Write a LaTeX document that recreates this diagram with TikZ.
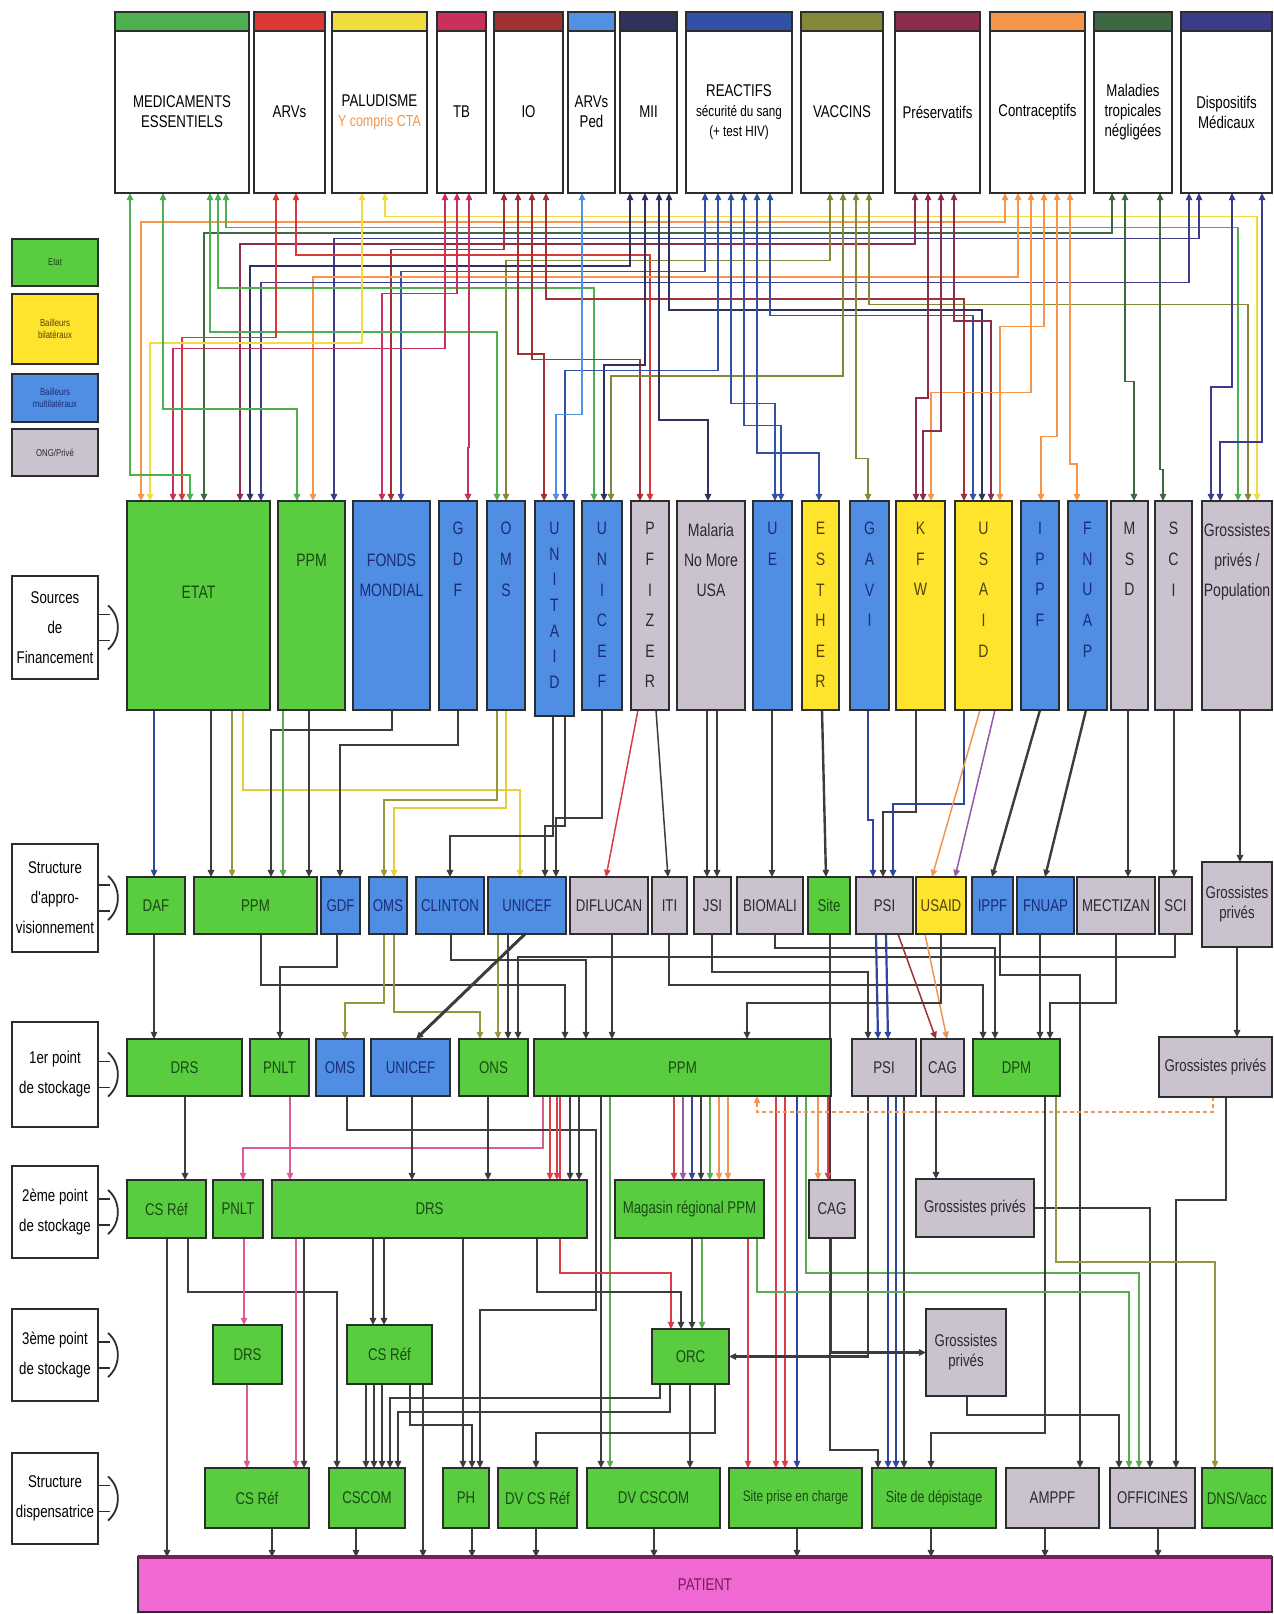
\documentclass[tikz,border=0pt]{standalone}
\usepackage{fontspec}
\newfontfamily\nar{Liberation Sans}[FakeStretch=0.78]
\usetikzlibrary{arrows.meta}
\definecolor{bd}{RGB}{45,45,45}
\definecolor{gr}{RGB}{90,204,64}
\definecolor{grT}{RGB}{25,75,20}
\definecolor{bl}{RGB}{80,142,228}
\definecolor{blT}{RGB}{25,45,120}
\definecolor{ye}{RGB}{255,228,45}
\definecolor{yeT}{RGB}{80,65,15}
\definecolor{gy}{RGB}{202,194,206}
\definecolor{gyT}{RGB}{45,40,50}
\definecolor{pk}{RGB}{240,105,210}
\definecolor{pkB}{RGB}{120,30,90}
\definecolor{lk}{RGB}{60,60,62}
\definecolor{kME}{RGB}{76,175,80}
\definecolor{kARV}{RGB}{220,55,55}
\definecolor{kPAL}{RGB}{240,220,60}
\definecolor{kTB}{RGB}{200,50,90}
\definecolor{kIO}{RGB}{160,50,50}
\definecolor{kARVP}{RGB}{80,145,225}
\definecolor{kMII}{RGB}{45,50,95}
\definecolor{kREA}{RGB}{50,80,165}
\definecolor{kVAC}{RGB}{135,135,60}
\definecolor{kPRE}{RGB}{140,45,80}
\definecolor{kCON}{RGB}{245,150,75}
\definecolor{kMAL}{RGB}{60,105,65}
\definecolor{kDIS}{RGB}{60,60,140}
\definecolor{cOl}{RGB}{150,150,60}
\definecolor{cYe}{RGB}{230,205,60}
\definecolor{cGr}{RGB}{90,170,80}
\definecolor{cRd}{RGB}{220,60,70}
\definecolor{cPk}{RGB}{220,90,150}
\definecolor{cOr}{RGB}{240,150,80}
\definecolor{cBl}{RGB}{45,70,160}
\definecolor{cPu}{RGB}{150,90,170}
\pgfdeclarelayer{back}
\pgfdeclarelayer{bg}
\pgfsetlayers{back,bg,main}
\newcommand\mkbox[7]{%
  \pgfmathsetmacro\mbw{(#4-#2)*0.5}%
  \pgfmathsetmacro\mbh{(#5-#3)*0.5}%
  \pgfmathsetmacro\mbx{(#2+#4)/2}%
  \pgfmathsetmacro\mby{(#3+#5)/2}%
  \node[#6,minimum width=\mbw pt,minimum height=\mbh pt] (#1) at (\mbx,\mby) {#7};}
\newcommand\cvv[5]{\draw[#1] (#3,0|-#2.south) -- (#5,0|-#4.north);}
\newcommand\cvhv[6]{\draw[#1] (#3,0|-#2.south) -- (#3,#4) -- (#6,#4) -- (#6,0|-#5.north);}
\newcommand\rowarr[1]{%
  \draw[line width=0.9pt,draw=bd] ([yshift=6.5pt]#1.east) -- ++(12,0) ([yshift=-6.5pt]#1.east) -- ++(12,0);
  \draw[line width=0.9pt,draw=bd] ([xshift=5pt,yshift=11pt]#1.east) to[bend left=50] ([xshift=5pt,yshift=-11pt]#1.east);}
\tikzset{
  tri/.tip={Triangle[length=3.6pt,width=3.2pt]},
  bx/.style={draw=bd,line width=0.8pt,inner sep=0pt,outer sep=0pt,align=center,font=\nar\fontsize{8.5}{10}\selectfont},
  grn/.style={bx,fill=gr,text=grT},
  blu/.style={bx,fill=bl,text=blT},
  yel/.style={bx,fill=ye,text=yeT},
  gry/.style={bx,fill=gy,text=gyT},
  wht/.style={bx,fill=white,text=black},
  rowlab/.style={bx,fill=white,text=black,line width=1pt,font=\nar\fontsize{8.5}{15}\selectfont},
  leg/.style={bx,line width=1.1pt,font=\nar\fontsize{5}{6}\selectfont},
  lab/.style={inner sep=0pt,align=center,font=\nar\fontsize{9}{15}\selectfont},
  vlab/.style={lab,anchor=north,font=\nar\fontsize{9}{15.3}\selectfont},
  toplink/.style={line width=0.85pt,tri-tri},
  dk/.style={draw=lk,line width=1.2pt,-tri},
  dkB/.style={draw=cBl,line width=1.1pt,-tri},
  th/.style={line width=0.75pt,-tri},
}
\begin{document}
\begin{tikzpicture}[x=0.5pt,y=-0.5pt]
\begin{pgfonlayer}{back}
\fill[white] (0,0) rectangle (1274,1614);
\end{pgfonlayer}
\useasboundingbox (0,0) rectangle (1274,1614);

% ---------- products ----------
\foreach \nm/\xa/\xb/\bc/\tx in {
  pME/115/249/kME/{MEDICAMENTS\\ESSENTIELS},
  pARV/254/325/kARV/{ARVs},
  pPAL/332/427/kPAL/{PALUDISME\\{\fontsize{8}{10}\selectfont\color{kCON}Y compris CTA}},
  pTB/437/486/kTB/{TB},
  pIO/494/563/kIO/{IO},
  pARVP/568/615/kARVP/{ARVs\\Ped},
  pMII/620/677/kMII/{MII},
  pREA/686/792/kREA/{REACTIFS\\{\fontsize{7.5}{10}\selectfont s\'ecurit\'e du sang}\\{\fontsize{7.5}{10}\selectfont (+ test HIV)}},
  pVAC/801/883/kVAC/{VACCINS},
  pPRE/895/980/kPRE/{Pr\'eservatifs},
  pCON/990/1085/kCON/{Contraceptifs},
  pMAL/1094/1172/kMAL/{Maladies\\tropicales\\n\'eglig\'ees},
  pDIS/1181/1272/kDIS/{Dispositifs\\M\'edicaux}} {
  \mkbox{\nm}{\xa}{31}{\xb}{193}{wht}{\tx}
  \filldraw[fill=\bc,draw=bd,line width=0.8pt] (\xa,12) rectangle (\xb,31);
}

% ---------- legend ----------
\mkbox{lEtat}{12}{239}{98}{286}{leg,fill=gr,text=grT}{Etat}
\mkbox{lBil}{12}{294}{98}{364}{leg,fill=ye,text=yeT}{Bailleurs\\bilat\'eraux}
\mkbox{lMul}{12}{374}{98}{422}{leg,fill=bl,text=blT}{Bailleurs\\multilat\'eraux}
\mkbox{lONG}{12}{429}{98}{476}{leg,fill=gy,text=gyT}{ONG/Priv\'e}

% ---------- row labels ----------
\mkbox{rSrc}{12}{576}{98}{679}{rowlab}{Sources\\de\\Financement}
\mkbox{rApp}{12}{844}{98}{952}{rowlab}{Structure\\d'appro-\\visionnement}
\mkbox{rOne}{12}{1022}{98}{1127}{rowlab}{1er point\\de stockage}
\mkbox{rTwo}{12}{1166}{98}{1258}{rowlab}{2\`eme point\\de stockage}
\mkbox{rThr}{12}{1309}{98}{1401}{rowlab}{3\`eme point\\de stockage}
\mkbox{rDis}{12}{1453}{98}{1544}{rowlab}{Structure\\dispensatrice}
\rowarr{rSrc}\rowarr{rApp}\rowarr{rOne}\rowarr{rTwo}\rowarr{rThr}\rowarr{rDis}

% ---------- sources ----------
\mkbox{sETAT}{127}{501}{270}{710}{grn}{}
\mkbox{sPPM}{278}{501}{345}{710}{grn}{}
\mkbox{sFM}{353}{501}{430}{710}{blu}{}
\mkbox{sGDF}{439}{501}{477}{710}{blu}{}
\mkbox{sOMS}{487}{501}{525}{710}{blu}{}
\mkbox{sUNITAID}{535}{501}{574}{716}{blu}{}
\mkbox{sUNICEF}{582}{501}{622}{710}{blu}{}
\mkbox{sPFIZER}{631}{501}{669}{710}{gry}{}
\mkbox{sMAL}{677}{501}{745}{710}{gry}{}
\mkbox{sUE}{753}{501}{792}{710}{blu}{}
\mkbox{sESTHER}{802}{501}{839}{710}{yel}{}
\mkbox{sGAVI}{850}{501}{889}{710}{blu}{}
\mkbox{sKFW}{896}{501}{945}{710}{yel}{}
\mkbox{sUSAID}{955}{501}{1012}{710}{yel}{}
\mkbox{sIPPF}{1021}{501}{1059}{710}{blu}{}
\mkbox{sFNUAP}{1068}{501}{1107}{710}{blu}{}
\mkbox{sMSD}{1111}{501}{1148}{710}{gry}{}
\mkbox{sSCI}{1155}{501}{1192}{710}{gry}{}
\mkbox{sGROS}{1202}{501}{1272}{710}{gry}{}
\node[lab,text=grT] (tETAT) at (198.5,592) {ETAT};
\node[lab,text=grT] (tPPM) at (311.5,560) {PPM};
\node[lab,text=blT] (tFM) at (391.5,575) {FONDS\\MONDIAL};
\node[lab,text=gyT] (tMAL) at (711,560) {Malaria\\No More\\USA};
\node[lab,text=gyT] (tGROS) at (1237,562) {Grossistes\\priv\'es /\\Population};
\node[vlab,text=blT] (tGDF) at (458,522) {G\\D\\F};
\node[vlab,text=blT] (tOMS) at (506,522) {O\\M\\S};
\node[vlab,text=blT,font=\nar\fontsize{9}{12.8}\selectfont] (tUNITAID) at (554.5,522) {U\\N\\I\\T\\A\\I\\D};
\node[vlab,text=blT] (tUNICEF) at (602,522) {U\\N\\I\\C\\E\\F};
\node[vlab,text=gyT] (tPFIZER) at (650,522) {P\\F\\I\\Z\\E\\R};
\node[vlab,text=blT] (tUE) at (772.5,522) {U\\E};
\node[vlab,text=yeT] (tESTHER) at (820.5,522) {E\\S\\T\\H\\E\\R};
\node[vlab,text=blT] (tGAVI) at (869.5,522) {G\\A\\V\\I};
\node[vlab,text=yeT] (tKFW) at (920.5,522) {K\\F\\W};
\node[vlab,text=yeT] (tUSAID) at (983.5,522) {U\\S\\A\\I\\D};
\node[vlab,text=blT] (tIPPF) at (1040,522) {I\\P\\P\\F};
\node[vlab,text=blT] (tFNUAP) at (1087.5,522) {F\\N\\U\\A\\P};
\node[vlab,text=gyT] (tMSD) at (1129.5,522) {M\\S\\D};
\node[vlab,text=gyT] (tSCI) at (1173.5,522) {S\\C\\I};

% ---------- approvisionnement ----------
\mkbox{aDAF}{127}{877}{185}{934}{grn}{DAF}
\mkbox{aPPM}{194}{877}{317}{934}{grn}{PPM}
\mkbox{aGDF}{321}{877}{360}{934}{blu}{GDF}
\mkbox{aOMS}{369}{877}{407}{934}{blu}{OMS}
\mkbox{aCLI}{416}{877}{484}{934}{blu}{CLINTON}
\mkbox{aUNICEF}{488}{877}{566}{934}{blu}{UNICEF}
\mkbox{aDIF}{570}{877}{648}{934}{gry}{DIFLUCAN}
\mkbox{aITI}{652}{877}{687}{934}{gry}{ITI}
\mkbox{aJSI}{694}{877}{731}{934}{gry}{JSI}
\mkbox{aBIO}{737}{877}{803}{934}{gry}{BIOMALI}
\mkbox{aSITE}{808}{877}{850}{934}{grn}{Site}
\mkbox{aPSI}{856}{877}{913}{934}{gry}{PSI}
\mkbox{aUSAID}{916}{877}{966}{934}{yel}{USAID}
\mkbox{aIPPF}{972}{877}{1013}{934}{blu}{IPPF}
\mkbox{aFNUAP}{1017}{877}{1074}{934}{blu}{FNUAP}
\mkbox{aMEC}{1077}{877}{1155}{934}{gry}{MECTIZAN}
\mkbox{aSCI}{1159}{877}{1192}{934}{gry}{SCI}
\mkbox{aGROS}{1202}{862}{1272}{947}{gry}{Grossistes\\priv\'es}

% ---------- 1er point ----------
\mkbox{bDRS}{127}{1039}{242}{1096}{grn}{DRS}
\mkbox{bPNLT}{250}{1039}{309}{1096}{grn}{PNLT}
\mkbox{bOMS}{316}{1039}{364}{1096}{blu}{OMS}
\mkbox{bUNICEF}{371}{1039}{450}{1096}{blu}{UNICEF}
\mkbox{bONS}{459}{1039}{528}{1096}{grn}{ONS}
\mkbox{bPPM}{534}{1039}{831}{1096}{grn}{PPM}
\mkbox{bPSI}{852}{1039}{916}{1096}{gry}{PSI}
\mkbox{bCAG}{921}{1039}{964}{1096}{gry}{CAG}
\mkbox{bDPM}{973}{1039}{1060}{1096}{grn}{DPM}
\mkbox{bGROS}{1159}{1037}{1272}{1097}{gry}{Grossistes priv\'es}

% ---------- 2eme point ----------
\mkbox{cCSREF}{127}{1180}{206}{1238}{grn}{CS R\'ef}
\mkbox{cPNLT}{213}{1180}{263}{1238}{grn}{PNLT}
\mkbox{cDRS}{272}{1180}{587}{1238}{grn}{DRS}
\mkbox{cMAG}{615}{1180}{764}{1238}{grn}{Magasin r\'egional PPM}
\mkbox{cCAG}{809}{1180}{855}{1238}{gry}{CAG}
\mkbox{cGROS}{916}{1179}{1034}{1237}{gry}{Grossistes priv\'es}

% ---------- 3eme point ----------
\mkbox{dDRS}{213}{1325}{282}{1384}{grn}{DRS}
\mkbox{dCSREF}{347}{1325}{432}{1384}{grn}{CS R\'ef}
\mkbox{dORC}{652}{1329}{729}{1384}{grn}{ORC}
\mkbox{dGROS}{926}{1309}{1006}{1396}{gry}{Grossistes\\priv\'es}

% ---------- dispensatrice ----------
\mkbox{eCSREF}{205}{1468}{309}{1528}{grn}{CS R\'ef}
\mkbox{eCSCOM}{329}{1468}{405}{1528}{grn}{CSCOM}
\mkbox{ePH}{443}{1468}{489}{1528}{grn}{PH}
\mkbox{eDVCS}{498}{1468}{577}{1528}{grn}{DV CS R\'ef}
\mkbox{eDVCSCOM}{587}{1468}{720}{1528}{grn}{DV CSCOM}
\mkbox{eSITEP}{729}{1468}{862}{1528}{grn,font=\nar\fontsize{7.6}{9}\selectfont}{Site prise en charge}
\mkbox{eSITED}{872}{1468}{996}{1528}{grn,font=\nar\fontsize{8}{9}\selectfont}{Site de d\'epistage}
\mkbox{eAMPPF}{1006}{1468}{1099}{1528}{gry}{AMPPF}
\mkbox{eOFF}{1110}{1468}{1195}{1528}{gry}{OFFICINES}
\mkbox{eDNS}{1202}{1468}{1272}{1528}{grn}{DNS/Vacc}

% ---------- patient ----------
\mkbox{pat}{138}{1557}{1272}{1612}{bx,fill=pk,text=pkB}{PATIENT}
\draw[pkB,line width=1.6pt] (pat.north west) -- (pat.north east);

% ================= connectors =================
\begin{pgfonlayer}{bg}
% products <-> sources
\foreach \lc/\lp/\lx/\ls/\lsx [count=\i] in {
  kPAL/pPAL/385/sGROS/1257, kCON/pCON/1005/sETAT/141, kME/pME/226/sGROS/1238,
  kMAL/pMAL/1112/sETAT/204, kDIS/pDIS/1199/sPPM/334, kPRE/pPRE/915/sETAT/240,
  kIO/pIO/504/sFM/391, kARV/pARV/296/sPFIZER/650, kVAC/pVAC/830/sOMS/506,
  kMII/pMII/630/sETAT/250, kREA/pREA/705/sFM/401, kCON/pCON/1018/sPPM/313,
  kDIS/pDIS/1189/sETAT/261, kME/pME/218/sUNICEF/594, kTB/pTB/457/sFM/382,
  kIO/pIO/546/sUSAID/964, kVAC/pVAC/869/sGROS/1248, kMII/pMII/669/sUSAID/982,
  kREA/pREA/770/sUSAID/973, kPRE/pPRE/954/sUSAID/991, kCON/pCON/1044/sUSAID/1000,
  kME/pME/210/sOMS/497, kARV/pARV/276/sETAT/182, kPAL/pPAL/362/sETAT/150,
  kTB/pTB/445/sETAT/173, kIO/pIO/518/sUNITAID/544, kIO/pIO/532/sPFIZER/640,
  kMII/pMII/645/sUNICEF/604, kREA/pREA/718/sUNITAID/565, kVAC/pVAC/843/sUNICEF/611,
  kMAL/pMAL/1125/sMSD/1134, kDIS/pDIS/1232/sGROS/1211, kCON/pCON/1031/sKFW/931,
  kPRE/pPRE/928/sKFW/916, kREA/pREA/731/sUE/775, kME/pME/163/sPPM/297,
  kARVP/pARVP/582/sUNITAID/556, kMII/pMII/659/sMAL/708, kREA/pREA/744/sUE/781,
  kPRE/pPRE/941/sKFW/923, kCON/pCON/1057/sIPPF/1041, kDIS/pDIS/1262/sGROS/1220,
  kTB/pTB/469/sGDF/468, kREA/pREA/757/sESTHER/819, kVAC/pVAC/856/sGAVI/868,
  kCON/pCON/1070/sFNUAP/1077, kMAL/pMAL/1160/sSCI/1163, kME/pME/130/sETAT/190} {
  \pgfmathsetmacro\lv{211+\i*5.5}
  \draw[toplink,draw=\lc] (\lx,0|-\lp.south) -- (\lx,\lv) -| (\lsx,0|-\ls.north);
}

% sources -> approvisionnement
\cvv{th,draw=cBl}{sETAT}{154}{aDAF}{154}
\cvv{dk}{sETAT}{211}{aPPM}{211}
\cvv{th,draw=cOl}{sETAT}{232}{aPPM}{232}
\cvhv{th,draw=cYe}{sETAT}{243}{790}{aUNICEF}{520}
\cvhv{dk}{sFM}{392}{730}{aPPM}{271}
\cvv{th,draw=cGr}{sPPM}{283}{aPPM}{283}
\cvv{dk}{sPPM}{309}{aPPM}{309}
\cvhv{dk}{sGDF}{458}{745}{aGDF}{340}
\cvhv{th,draw=cOl}{sOMS}{497}{800}{aOMS}{384}
\cvhv{th,draw=cYe}{sOMS}{506}{808}{aOMS}{394}
\cvhv{dk}{sUNITAID}{553}{836}{aCLI}{450}
\cvhv{dk}{sUNITAID}{565}{826}{aUNICEF}{545}
\cvhv{dk}{sUNICEF}{602}{818}{aUNICEF}{556}
\draw[th,draw=cRd] (638,0|-sPFIZER.south) -- (606,0|-aDIF.north);
\cvv{th,draw=lk}{sPFIZER}{656}{aITI}{668}
\cvv{dk}{sMAL}{707}{aJSI}{707}
\cvv{dk}{sMAL}{717}{aJSI}{717}
\cvv{dk}{sUE}{772}{aBIO}{772}
\cvv{dk}{sESTHER}{822}{aSITE}{826}
\cvhv{dkB}{sGAVI}{868}{820}{aPSI}{873}
\cvhv{dk}{sKFW}{916}{812}{aPSI}{883}
\cvhv{dkB}{sUSAID}{964}{804}{aPSI}{893}
\draw[th,draw=cOr] (980,0|-sUSAID.south) -- (932,0|-aUSAID.north);
\draw[th,draw=cPu] (995,0|-sUSAID.south) -- (955,0|-aUSAID.north);
\draw[dk] (1040,0|-sIPPF.south) -- (992,0|-aIPPF.north);
\draw[dk] (1086,0|-sFNUAP.south) -- (1045,0|-aFNUAP.north);
\cvv{dk}{sMSD}{1128}{aMEC}{1128}
\cvv{dk}{sSCI}{1174}{aSCI}{1174}
\cvv{dk}{sGROS}{1240}{aGROS}{1240}

% approvisionnement -> 1er point
\cvv{th,draw=lk}{aDAF}{154}{bDRS}{154}
\cvhv{dk}{aPPM}{261}{985}{bPPM}{565}
\cvhv{dk}{aGDF}{337}{967}{bPNLT}{280}
\cvhv{th,draw=cOl}{aOMS}{384}{1003}{bOMS}{345}
\cvhv{th,draw=cOl}{aOMS}{394}{1012}{bONS}{480}
\cvhv{dk}{aCLI}{451}{960}{bPPM}{586}
\cvv{th,draw=cOl}{aUNICEF}{498}{bONS}{498}
\cvv{dk}{aUNICEF}{508}{bONS}{508}
\draw[dk,line width=1.5pt] (525,0|-aUNICEF.south) -- (416,0|-bUNICEF.north);
\cvhv{dk}{aSCI}{1175}{957}{bONS}{518}
\cvv{th,draw=lk}{aDIF}{612}{bPPM}{612}
\cvhv{dk}{aITI}{669}{985}{bDPM}{983}
\cvhv{dk}{aJSI}{712}{972}{bPSI}{868}
\cvhv{dk}{aBIO}{775}{948}{bDPM}{995}
\cvv{dkB}{aPSI}{876}{bPSI}{878}
\cvv{dkB}{aPSI}{886}{bPSI}{888}
\draw[th,draw=kIO] (898,0|-aPSI.south) -- (936,0|-bCAG.north);
\draw[th,draw=cOr] (925,0|-aUSAID.south) -- (947,0|-bCAG.north);
\cvhv{dk}{aUSAID}{941}{1003}{bPPM}{747}
\cvv{dk}{aFNUAP}{1040}{bDPM}{1040}
\cvhv{dk}{aMEC}{1116}{1003}{bDPM}{1050}
\cvv{dk}{aGROS}{1237}{bGROS}{1237}
\cvhv{dk}{aIPPF}{1000}{975}{eAMPPF}{1080}
\draw[dk] (830,0|-aSITE.south) -- (830,1450) -- (878,1450) -- (878,0|-eSITED.north);

% 1er -> 2eme
\cvv{dk}{bDRS}{185}{cCSREF}{185}
\cvv{th,draw=cPk}{bPNLT}{290}{cDRS}{290}
\cvhv{th,draw=cPk}{bPPM}{543}{1148}{cPNLT}{243}
\draw[dk] (347,0|-bOMS.south) -- (347,1130) -- (596,1130) -- (596,1310) -- (480,1310) -- (480,0|-ePH.north);
\cvv{dk}{bUNICEF}{412}{cDRS}{412}
\cvv{dk}{bONS}{488}{cDRS}{488}
\cvv{th,draw=cRd}{bPPM}{550}{cDRS}{550}
\cvv{th,draw=cRd}{bPPM}{557}{cDRS}{557}
\cvv{dk}{bPPM}{570}{cDRS}{570}
\cvv{dk}{bPPM}{579}{cDRS}{579}
\cvv{th,draw=cRd}{bPPM}{674}{cMAG}{674}
\cvv{th,draw=cPu}{bPPM}{683}{cMAG}{683}
\cvv{th,draw=cBl}{bPPM}{692}{cMAG}{692}
\cvv{th,draw=lk}{bPPM}{701}{cMAG}{701}
\cvv{th,draw=cGr}{bPPM}{710}{cMAG}{710}
\cvv{th,draw=cOr}{bPPM}{719}{cMAG}{719}
\cvv{th,draw=cOr}{bPPM}{728}{cMAG}{728}
\cvv{th,draw=cOr}{bPPM}{818}{cCAG}{818}
\cvv{th,draw=cRd}{bPPM}{828}{cCAG}{828}
\cvv{dk}{bPPM}{601}{eDVCSCOM}{601}
\cvv{th,draw=cGr}{bPPM}{610}{eDVCSCOM}{610}
\cvv{th,draw=cRd}{bPPM}{776}{eSITEP}{776}
\cvv{th,draw=cRd}{bPPM}{785}{eSITEP}{785}
\cvv{th,draw=cBl}{bPPM}{797}{eSITEP}{797}
\cvhv{th,draw=cRd}{bPPM}{560}{1273}{dORC}{671}
\cvhv{th,draw=cGr}{bPPM}{806}{1273}{eOFF}{1139}
\cvv{dkB}{bPSI}{888}{eSITED}{888}
\cvv{dkB}{bPSI}{896}{eSITED}{896}
\cvv{dk}{bPSI}{904}{eSITED}{904}
\draw[dk] (868,0|-bPSI.south) |- (dORC.east);
\cvv{dk}{bCAG}{936}{cGROS}{936}
\draw[th,draw=cOr,dash pattern=on 2pt off 1.5pt] (1213,0|-bGROS.south) -- (1213,1112) -- (757,1112) -- (757,0|-bPPM.south);
\draw[dk] (1226,0|-bGROS.south) -- (1226,1200) -- (1176,1200) -- (1176,0|-eOFF.north);
\draw[dk] (cGROS.east) -| (1150,0|-eOFF.north);
\draw[dk] (1045,0|-bDPM.south) -- (1045,1433) -- (931,1433) -- (931,0|-eSITED.north);
\cvhv{th,draw=cOl}{bDPM}{1056}{1262}{eDNS}{1215}

% 2eme -> 3eme / dispensatrice
\draw[dk] (167,0|-cCSREF.south) -- (167,0|-pat.north);
\cvhv{dk}{cCSREF}{188}{1292}{eCSCOM}{337}
\cvv{th,draw=cPk}{cPNLT}{244}{dDRS}{244}
\cvv{th,draw=cPk}{dDRS}{247}{eCSREF}{247}
\cvv{th,draw=cPk}{cDRS}{296}{eCSREF}{296}
\cvv{dk}{cDRS}{304}{eCSREF}{304}
\cvv{dk}{cDRS}{373}{dCSREF}{373}
\cvv{dk}{cDRS}{384}{dCSREF}{384}
\cvv{dk}{cDRS}{463}{ePH}{463}
\cvhv{dk}{cDRS}{537}{1292}{dORC}{681}
\cvv{dk}{cMAG}{692}{dORC}{692}
\cvv{th,draw=cGr}{cMAG}{702}{dORC}{702}
\cvv{th,draw=cRd}{cMAG}{748}{eSITEP}{748}
\cvhv{th,draw=cGr}{cMAG}{757}{1292}{eOFF}{1129}
\draw[dk] (831,0|-cCAG.south) |- (dGROS.west);
\draw[dk] (967,0|-dGROS.south) -- (967,1415) -- (1119,1415) -- (1119,0|-eOFF.north);

% 3eme -> dispensatrice
\cvv{dk}{dCSREF}{366}{eCSCOM}{366}
\cvv{dk}{dCSREF}{374}{eCSCOM}{374}
\cvv{dk}{dCSREF}{382}{eCSCOM}{382}
\cvv{dk}{dCSREF}{423}{pat}{423}
\draw[dk] (410,0|-dCSREF.south) -- (410,1425) -- (472,1425) -- (472,0|-ePH.north);
\draw[dk] (660,0|-dORC.south) -- (660,1398) -- (390,1398) -- (390,0|-eCSCOM.north);
\draw[dk] (670,0|-dORC.south) -- (670,1412) -- (398,1412) -- (398,0|-eCSCOM.north);
\draw[dk] (715,0|-dORC.south) -- (715,1433) -- (536,1433) -- (536,0|-eDVCS.north);
\cvv{dk}{dORC}{690}{eDVCSCOM}{690}

% dispensatrice -> patient
\foreach \xx/\nn in {272/eCSREF,356/eCSCOM,472/ePH,536/eDVCS,654/eDVCSCOM,797/eSITEP,931/eSITED,1045/eAMPPF,1158/eOFF} {
  \cvv{dk}{\nn}{\xx}{pat}{\xx}
}
\end{pgfonlayer}
\end{tikzpicture}
\end{document}
